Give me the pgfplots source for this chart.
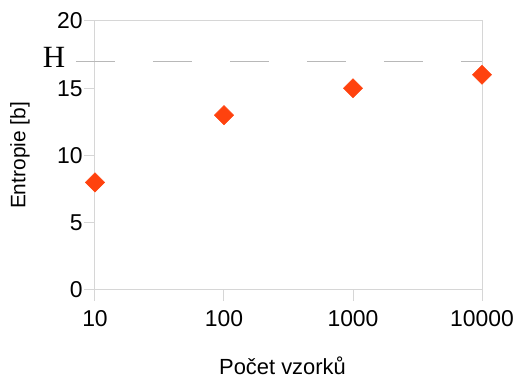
\documentclass[border=0pt]{standalone}
\usepackage{fontspec}
\setmainfont{Liberation Sans}
\newfontfamily\serifH{Liberation Serif}
\usepackage{pgfplots}
\pgfplotsset{compat=1.18}
\definecolor{mk}{HTML}{FF420E}
\definecolor{framegray}{HTML}{D6D6D6}
\definecolor{dashgray}{HTML}{B8B8B8}
\begin{document}
\begin{tikzpicture}
\begin{axis}[
  scale only axis,
  width=387bp, height=269bp,
  xmode=log, xmin=10, xmax=10000,
  ymin=0, ymax=20,
  xtick={10,100,1000,10000},
  xticklabels={10,100,1000,10000},
  ytick={0,5,10,15,20},
  minor tick num=0,
  xminorticks=false,
  tick align=outside,
  major tick length=11bp,
  axis line style={framegray, line width=1bp},
  every tick/.style={framegray, line width=1bp},
  tick pos=left,
  /pgf/number format/assume math mode=true,
  ticklabel style={font=\fontsize{23}{23}\selectfont},
  yticklabel style={xshift=2bp},
  xticklabel style={yshift=-6bp},
  clip=false,
]
\addplot[only marks, mark=square*, mark size=6.8bp, mark options={rotate=45, fill=mk, draw=mk}]
  coordinates {(10,8) (100,13) (1000,15) (10000,16)};
\draw[dashgray, line width=1.3bp, dash pattern=on 39bp off 38bp] ([xshift=-19bp]axis cs:10,17) -- (axis cs:10000,17);
\node[anchor=base, inner sep=0pt, font=\serifH\fontsize{31}{31}\selectfont] at ([xshift=-41bp,yshift=-6bp]axis cs:10,17) {H};
\node[rotate=90, inner sep=0pt, font=\fontsize{21}{21}\selectfont] at ([xshift=-75bp]rel axis cs:0,0.5) {Entropie [b]};
\node[anchor=base, inner sep=0pt, font=\fontsize{22}{22}\selectfont] at ([xshift=-6bp,yshift=-85bp]rel axis cs:0.5,0) {Počet vzorků};
\coordinate (bl) at (rel axis cs:0,0);
\coordinate (tr) at (rel axis cs:1,1);
\end{axis}
\path ([shift={(-95bp,-91bp)}]bl) rectangle ([shift={(37bp,21bp)}]tr);
\end{tikzpicture}
\end{document}
